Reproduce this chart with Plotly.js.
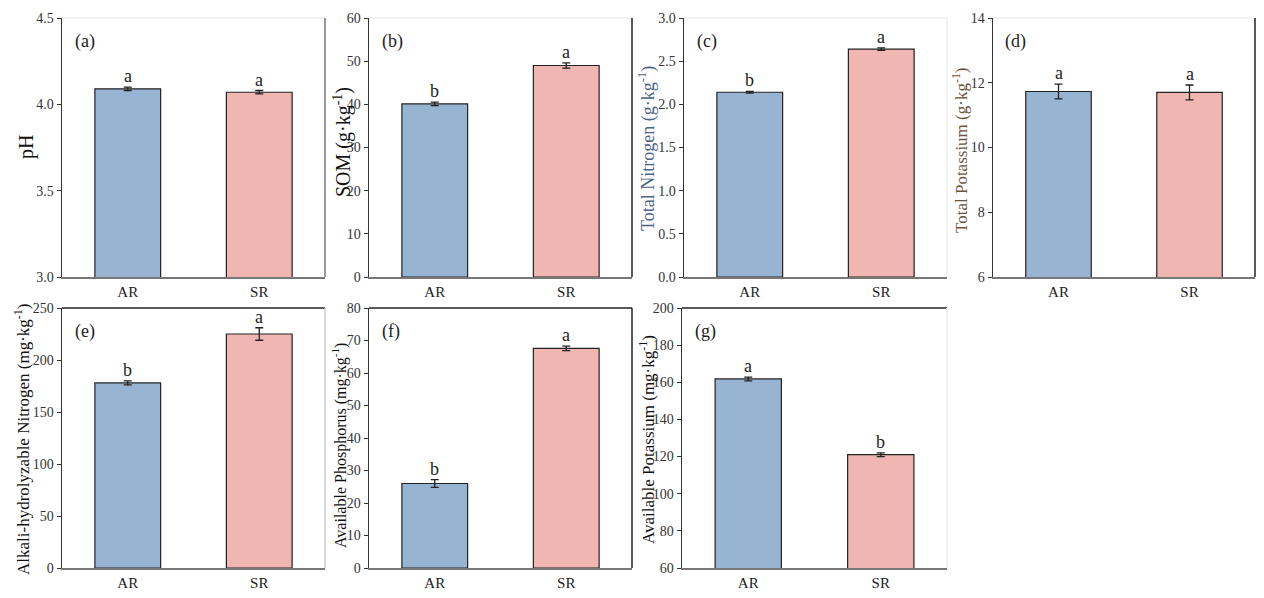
<!DOCTYPE html>
<html><head><meta charset="utf-8">
<script src="https://cdn.plot.ly/plotly-3.0.1.min.js"></script>
<style>html,body{margin:0;padding:0;background:#fff}#chart{width:1264px;height:598px}</style>
</head><body><div id="chart"></div>
<script>
const groups = ['AR', 'SR'];
const panelLabels = ['(a)', '(b)', '(c)', '(d)', '(e)', '(f)', '(g)'];
const yTitles = ['pH', 'SOM (g·kg<sup>-1</sup>)', 'Total Nitrogen (g·kg<sup>-1</sup>)', 'Total Potassium (g·kg<sup>-1</sup>)',
  'Alkali-hydrolyzable Nitrogen (mg·kg<sup>-1</sup>)', 'Available Phosphorus (mg·kg<sup>-1</sup>)', 'Available Potassium (mg·kg<sup>-1</sup>)'];
const pH = [4.09, 4.07];           const pHErr = [0.01, 0.01];
const SOM = [40.1, 49.0];          const SOMErr = [0.4, 0.6];
const TN = [2.14, 2.64];           const TNErr = [0.01, 0.015];
const TK = [11.73, 11.70];         const TKErr = [0.23, 0.23];
const AN = [178, 225];             const ANErr = [2, 6];
const AP = [26.0, 67.6];           const APErr = [1.2, 0.7];
const AK = [161.8, 121.0];         const AKErr = [1.0, 1.0];
const sigLetters = [['a','a'],['b','a'],['b','a'],['a','a'],['b','a'],['b','a'],['a','b']];
const values = [pH, SOM, TN, TK, AN, AP, AK];
const errors = [pHErr, SOMErr, TNErr, TKErr, ANErr, APErr, AKErr];
const yRanges = [[3, 4.5], [0, 60], [0, 3], [6, 14], [0, 250], [0, 80], [60, 200]];
const yDticks = [0.5, 10, 0.5, 2, 50, 10, 20];
const yFormats = ['.1f', '', '.1f', '', '', '', ''];

const W = 1264, H = 598;
// pixel boxes [x0, x1, yTop, yBottom]
const boxes = [
  [62, 325, 18, 277], [369, 632, 18, 277], [684, 947, 18, 277], [993, 1255, 18, 277],
  [62, 325, 308, 568], [369, 632, 308, 568], [682, 947, 308, 568]
];
const titlePos = [[27, 147, 20], [342, 142, 20], [647, 148, 18], [960, 150, 17], [22, 440, 17], [340, 446, 16], [647, 439, 17]];
const titleColors = ['#111', '#111', '#4a6488', '#6a5440', '#111', '#111', '#111'];
const topColors = ['#eeeeee', '#eeeeee', '#eeeeee', '#eeeeee', '#222', '#222', '#222'];
const rightColors = ['#777', '#222', '#eeeeee', '#222', '#cccccc', '#222', '#eeeeee'];
const barColors = ['#98b4d3', '#f0b6b2'];
const FONT = 'Liberation Serif, Times New Roman, serif';

const data = [], annotations = [], shapes = [];
const layout = {
  width: W, height: H, margin: {l: 0, r: 0, t: 0, b: 0},
  paper_bgcolor: '#fff', plot_bgcolor: '#fff', showlegend: false,
  font: {family: FONT, color: '#222'}, bargap: 0
};
for (let i = 0; i < 7; i++) {
  const k = i === 0 ? '' : String(i + 1);
  const b = boxes[i];
  data.push({
    type: 'bar', x: groups, y: values[i], width: 0.5, xaxis: 'x' + k, yaxis: 'y' + k,
    marker: {color: barColors, line: {color: '#222', width: 1.2}},
    error_y: {type: 'data', array: errors[i], visible: true, color: '#222', thickness: 1.3, width: 4},
    hoverinfo: 'skip'
  });
  layout['xaxis' + k] = {
    domain: [b[0] / W, b[1] / W], anchor: 'y' + k, type: 'category', range: [-0.5, 1.5],
    showline: true, linecolor: '#777', linewidth: 1.5, ticks: '', showgrid: false, zeroline: false,
    tickfont: {size: 15, color: '#222', family: FONT}, fixedrange: true
  };
  layout['yaxis' + k] = {
    domain: [1 - b[3] / H, 1 - b[2] / H], anchor: 'x' + k, range: yRanges[i], dtick: yDticks[i],
    tick0: yRanges[i][0], tickformat: yFormats[i],
    showline: true, linecolor: '#333', linewidth: 1.5, ticks: 'outside', ticklen: 4, tickcolor: '#333',
    showgrid: false, zeroline: false, tickfont: {size: 14, color: '#333', family: FONT}, fixedrange: true
  };
  shapes.push({type: 'line', xref: 'x' + k + ' domain', yref: 'y' + k + ' domain', x0: 0, x1: 1, y0: 1, y1: 1,
    line: {color: topColors[i], width: 1.3}});
  shapes.push({type: 'line', xref: 'x' + k + ' domain', yref: 'y' + k + ' domain', x0: 1, x1: 1, y0: 0, y1: 1,
    line: {color: rightColors[i], width: 1.5}});
  annotations.push({xref: 'x' + k + ' domain', yref: 'y' + k + ' domain', x: 0.04, y: 0.91, xanchor: 'left', yanchor: 'middle',
    text: panelLabels[i], showarrow: false, font: {size: 18, family: FONT, color: '#222'}});
  for (let j = 0; j < 2; j++) {
    annotations.push({xref: 'x' + k, yref: 'y' + k, x: groups[j], y: values[i][j] + errors[i][j], yanchor: 'bottom',
      yshift: -1, text: sigLetters[i][j], showarrow: false, font: {size: 18, family: FONT, color: '#222'}});
  }
  const t = titlePos[i];
  annotations.push({xref: 'paper', yref: 'paper', x: t[0] / W, y: 1 - t[1] / H, xanchor: 'center', yanchor: 'middle',
    textangle: -90, text: yTitles[i], showarrow: false, font: {size: t[2], family: FONT, color: titleColors[i]}});
}
layout.annotations = annotations;
layout.shapes = shapes;
Plotly.newPlot('chart', data, layout, {displayModeBar: false, staticPlot: true});
</script></body></html>
